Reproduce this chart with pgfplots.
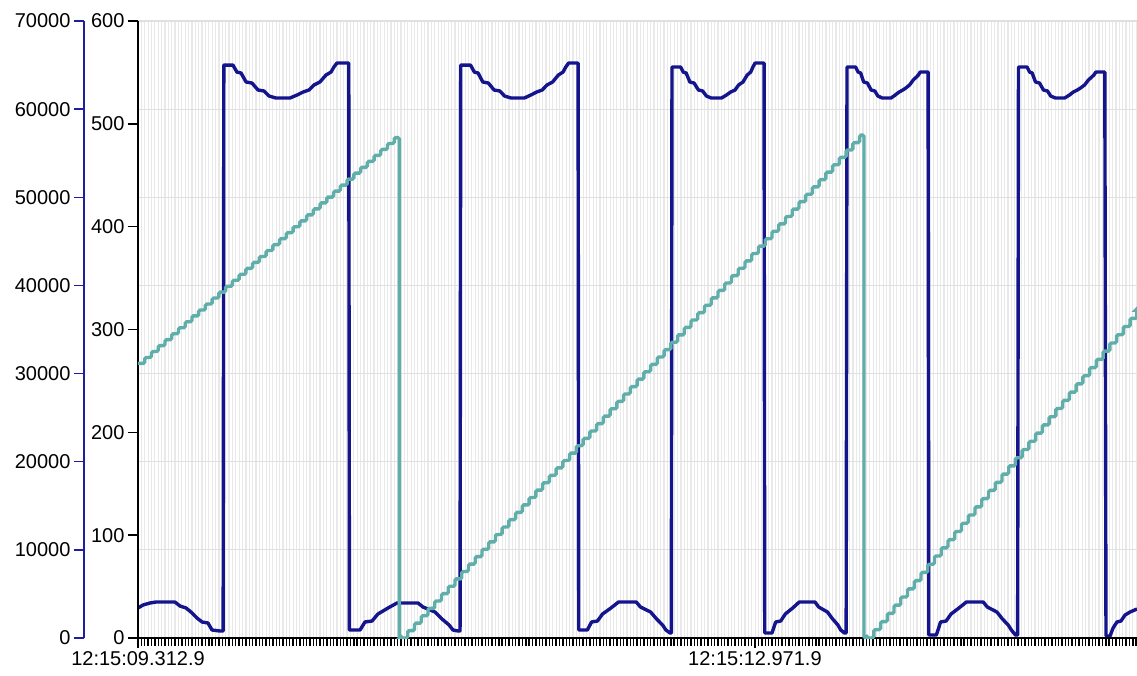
\documentclass[border=0pt]{standalone}
\usepackage{fontspec}
\setmainfont{Liberation Sans}
\usepackage{pgfplots}
\pgfplotsset{compat=1.18}
\definecolor{navyline}{RGB}{20,20,140}
\definecolor{tealline}{RGB}{96,174,170}
\definecolor{axisblue}{RGB}{30,30,160}
\begin{document}
\begin{tikzpicture}
\useasboundingbox (-138pt,-37pt) rectangle (999pt,638pt);
\pgfplotsset{every axis/.append style={
  scale only axis, width=999pt, height=617pt,
  xmin=0, xmax=5925,
  /pgf/number format/assume math mode=true,
  tick label style={font=\fontsize{20}{24}\selectfont, text=black},
  tick align=outside,
}}
% outer axis (0..70000) with grid and the square-wave series
\begin{axis}[
  ymin=0, ymax=70000,
  axis x line*=bottom, x axis line style={draw=none,-},
  axis y line*=left,
  y axis line style={-, draw=axisblue, line width=1.4pt, xshift=-54pt},
  ytick={0,10000,...,70000},
  ytick style={draw=axisblue, line width=1.4pt, xshift=-54pt},
  yticklabel style={xshift=-54pt},
  major tick length=10pt,
  scaled y ticks=false,
  /pgf/number format/1000 sep={},
  xtick={0,20,...,5920},
  xticklabels={},
  xtick style={draw=none},
  xmajorgrids, ymajorgrids,
  major x grid style={gray!17, line width=1.2pt},
  major y grid style={gray!24, line width=1.2pt},
]
\addplot[navyline, line width=3.4pt, line join=round] coordinates {
(0,3404) (30,3744) (71,3971) (107,4084) (219,4084) (249,3630) (285,3404) (314,2950) (350,2269) (380,1815) (415,1702) (439,908) (486,794) (505,794)
(509,65000) (563,65000) (587,64200) (611,64100) (641,63080) (676,62960) (712,62170) (747,62060) (777,61490) (818,61260) (901,61260) (943,61600) (979,61940) (1014,62170) (1044,62740) (1079,63080) (1115,63870) (1145,64210) (1162,64780) (1180,65230) (1250,65230)
(1254,908) (1317,908) (1346,1815) (1388,1929) (1423,2723) (1483,3404) (1536,3971) (1661,3971) (1690,3517) (1761,2950) (1803,2156) (1845,1475) (1868,908) (1898,794) (1910,794)
(1914,65000) (1972,65000) (1995,64200) (2017,64100) (2045,63080) (2078,62960) (2112,62170) (2146,62060) (2174,61490) (2213,61260) (2291,61260) (2330,61600) (2364,61940) (2397,62170) (2426,62740) (2459,63080) (2493,63870) (2521,64210) (2537,64780) (2554,65230) (2610,65230)
(2614,908) (2665,908) (2690,1815) (2725,1929) (2755,2723) (2805,3404) (2850,4084) (2955,4084) (2980,3517) (3040,2950) (3076,2156) (3111,1475) (3131,908) (3156,567) (3163,567)
(3167,64780) (3218,64780) (3234,64200) (3251,64100) (3273,63080) (3298,62960) (3324,62170) (3349,62060) (3371,61490) (3400,61260) (3460,61260) (3490,61600) (3515,61940) (3541,62170) (3562,62740) (3588,63080) (3613,63870) (3634,64210) (3647,64780) (3660,65230) (3713,65230)
(3717,567) (3760,567) (3782,1815) (3812,1929) (3839,2723) (3883,3404) (3922,4084) (4015,4084) (4037,3517) (4089,2950) (4120,2156) (4151,1475) (4168,908) (4190,567) (4200,567)
(4205,64780) (4256,64780) (4271,64200) (4286,64100) (4304,63080) (4326,62960) (4348,62170) (4370,62060) (4388,61490) (4414,61260) (4466,61260) (4491,61600) (4514,61940) (4536,62170) (4554,62400) (4576,62740) (4598,63310) (4617,63650) (4628,63870) (4639,64210) (4686,64210)
(4690,340) (4735,340) (4760,1815) (4793,1929) (4822,2723) (4869,3404) (4913,4084) (5013,4084) (5037,3517) (5094,2950) (5127,2156) (5161,1475) (5180,908) (5204,340) (5217,340)
(5222,64780) (5273,64780) (5288,64200) (5303,64100) (5323,63080) (5347,62960) (5370,62170) (5394,62060) (5413,61490) (5441,61260) (5496,61260) (5524,61600) (5547,61940) (5571,62170) (5590,62400) (5614,62740) (5637,63310) (5657,63650) (5669,63870) (5681,64210) (5734,64210)
(5741,227) (5765,227) (5783,1135) (5806,1815) (5830,1929) (5854,2609) (5884,2950) (5925,3290)
};
\end{axis}
% inner axis (0..600), time axis and the ramp series
\begin{axis}[
  ymin=0, ymax=600,
  axis x line*=bottom, axis y line*=left,
  axis line style={-, black, line width=1.4pt},
  ytick={0,100,...,600},
  xtick={0,3659}, xticklabels={12:15:09.312.9,12:15:12.971.9},
  minor xtick={0,20,...,5920},
  major tick length=10pt, minor tick length=8pt,
  tick style={black, line width=1.4pt},
]
\addplot[tealline, line width=3.4pt, const plot, rounded corners=1.5pt] coordinates {
(0,267) (40,272.8) (80,278.6) (120,284.3) (160,290.1) (200,295.9) (240,301.7) (280,307.5) (320,313.2) (360,319.0)
(400,324.8) (440,330.6) (480,336.4) (520,342.1) (560,347.9) (600,353.7) (640,359.5) (680,365.3) (720,371.0) (760,376.8)
(800,382.6) (840,388.4) (880,394.2) (920,399.9) (960,405.7) (1000,411.5) (1040,417.3) (1080,423.1) (1120,428.8) (1160,434.6)
(1200,440.4) (1240,446.2) (1280,452.0) (1320,457.7) (1360,463.5) (1400,469.3) (1440,475.1) (1480,480.9) (1520,486.6)
(1550,0) (1560,0) (1600,7.2) (1640,14.4) (1680,21.6) (1720,28.8) (1760,36.0) (1800,43.1) (1840,50.3) (1880,57.5) (1920,64.7)
(1960,71.9) (2000,79.1) (2040,86.3) (2080,93.5) (2120,100.7) (2160,107.9) (2200,115.1) (2240,122.2) (2280,129.4) (2320,136.6)
(2360,143.8) (2400,151.0) (2440,158.2) (2480,165.4) (2520,172.6) (2560,179.8) (2600,187.0) (2640,194.2) (2680,201.3) (2720,208.5)
(2760,215.7) (2800,222.9) (2840,230.1) (2880,237.3) (2920,244.5) (2960,251.7) (3000,258.9) (3040,266.1) (3080,273.3) (3120,280.4)
(3160,287.6) (3200,294.8) (3240,302.0) (3280,309.2) (3320,316.4) (3360,323.6) (3400,330.8) (3440,338.0) (3480,345.2) (3520,352.4)
(3560,359.6) (3600,366.7) (3640,373.9) (3680,381.1) (3720,388.3) (3760,395.5) (3800,402.7) (3840,409.9) (3880,417.1) (3920,424.3)
(3960,431.5) (4000,438.7) (4040,445.8) (4080,453.0) (4120,460.2) (4160,467.4) (4200,474.6) (4240,481.8) (4280,489.0)
(4306,0) (4324,0) (4364,8.0) (4404,15.9) (4444,23.9) (4484,31.9) (4524,39.9) (4564,47.8) (4604,55.8) (4644,63.8) (4684,71.7)
(4724,79.7) (4764,87.7) (4804,95.6) (4844,103.6) (4884,111.6) (4924,119.6) (4964,127.5) (5004,135.5) (5044,143.5) (5084,151.4)
(5124,159.4) (5164,167.4) (5204,175.3) (5244,183.3) (5284,191.3) (5324,199.3) (5364,207.2) (5404,215.2) (5444,223.2) (5484,231.1)
(5524,239.1) (5564,247.1) (5604,255.0) (5644,263.0) (5684,271.0) (5724,279.0) (5764,286.9) (5804,294.9) (5844,302.9) (5884,310.8)
(5924,318.8) (5925,318.8)
};
\end{axis}
\end{tikzpicture}
\end{document}
